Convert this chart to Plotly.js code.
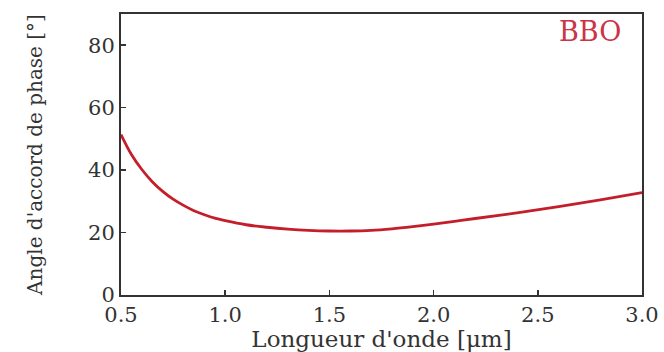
<!DOCTYPE html>
<html>
<head>
<meta charset="utf-8">
<script src="https://cdn.plot.ly/plotly-3.0.1.min.js"></script>
<style>html,body{margin:0;padding:0;background:#fff;}#chart{width:664px;height:352px;}</style>
</head>
<body>
<div id="chart"></div>
<script>
const wavelength = [0.5, 0.55, 0.6, 0.65, 0.7, 0.75, 0.8, 0.85, 0.9, 0.95, 1.0, 1.1, 1.2, 1.3, 1.4, 1.5, 1.6, 1.7, 1.8, 1.9, 2.0, 2.1, 2.2, 2.4, 2.6, 2.8, 3.0];
const angle = [51.4, 45.0, 40.2, 36.3, 33.2, 30.7, 28.7, 27.0, 25.7, 24.6, 23.8, 22.5, 21.7, 21.1, 20.7, 20.5, 20.5, 20.7, 21.2, 21.9, 22.7, 23.6, 24.5, 26.3, 28.3, 30.5, 32.8];
const xTicks = [0.5, 1.0, 1.5, 2.0, 2.5, 3.0];
const xTickText = ["0.5", "1.0", "1.5", "2.0", "2.5", "3.0"];
const yTicks = [0, 20, 40, 60, 80];
const crystalLabel = "BBO";

const font = {family: "DejaVu Serif", color: "#333333"};

Plotly.newPlot("chart", [{
  x: wavelength, y: angle, type: "scatter", mode: "lines",
  line: {color: "#c41e2a", width: 2.8, shape: "spline", smoothing: 1},
  hoverinfo: "skip"
}], {
  width: 664, height: 352,
  margin: {l: 121, r: 22, t: 14, b: 57},
  paper_bgcolor: "#ffffff", plot_bgcolor: "#ffffff",
  showlegend: false,
  font: Object.assign({size: 21}, font),
  xaxis: {
    range: [0.5, 3.0], tickvals: xTicks, ticktext: xTickText,
    ticks: "inside", ticklen: 5, tickwidth: 1.5, tickcolor: "#333",
    showline: true, linecolor: "#333", linewidth: 2, mirror: true,
    showgrid: false, zeroline: false,
    tickfont: Object.assign({size: 21}, font),
    title: {text: "Longueur d'onde [μm]", font: Object.assign({size: 23}, font), standoff: 0}
  },
  yaxis: {
    range: [0, 90], tickvals: yTicks,
    ticks: "inside", ticklen: 5, tickwidth: 1.5, tickcolor: "#333",
    showline: true, linecolor: "#333", linewidth: 2, mirror: true,
    showgrid: false, zeroline: false,
    tickfont: Object.assign({size: 21}, font),
    title: {text: "Angle d'accord de phase [°]", font: Object.assign({size: 20}, font), standoff: 40}
  },
  annotations: [{
    x: 0.96, y: 0.94, xref: "paper", yref: "paper", text: crystalLabel, showarrow: false,
    xanchor: "right", yanchor: "middle",
    font: {family: "DejaVu Serif", size: 27, color: "#cc3344"}
  }]
}, {staticPlot: true}).then(function(gd){
  const fl = gd._fullLayout;
  const px = (623 - fl.margin.l) / fl._size.w;
  const py = 1 - (31 - fl.margin.t) / fl._size.h;
  Plotly.relayout(gd, {"annotations[0].x": px, "annotations[0].y": py});
});
</script>
</body>
</html>
